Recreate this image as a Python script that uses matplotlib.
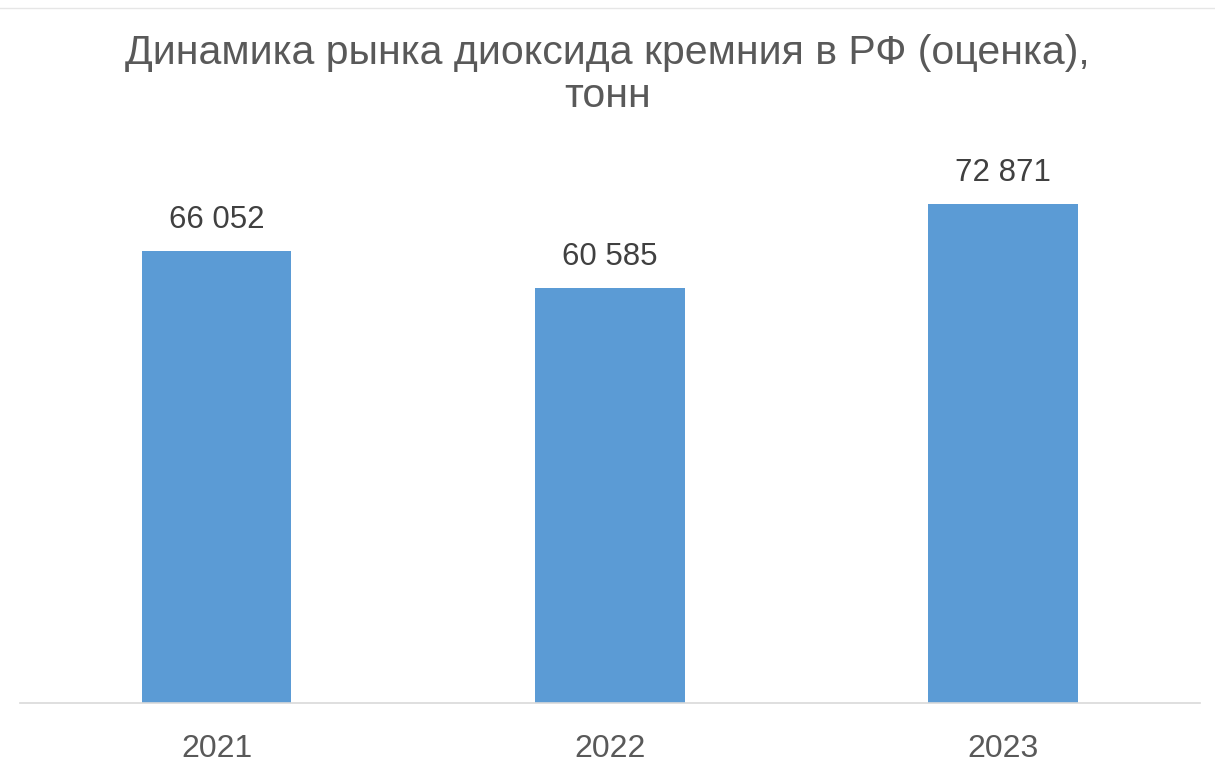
import numpy as np
import matplotlib.pyplot as plt

# data
years = ['2021', '2022', '2023']
values = [66052, 60585, 72871]
value_labels = ['66 052', '60 585', '72 871']

title = 'Динамика рынка диоксида кремния в РФ (оценка),\nтонн'

plt.rcParams['font.family'] = ['Liberation Sans', 'DejaVu Sans']

fig = plt.figure(figsize=(12.15, 7.78), dpi=100)
ax = fig.add_axes([0.0165, 0.0964, 0.971, 0.704])

x = np.arange(len(years))
bars = ax.bar(x, values, width=0.38, color='#5b9bd5', zorder=2)

for xi, v, lab in zip(x, values, value_labels):
    ax.text(xi, v + 2300, lab, ha='center', va='bottom', fontsize=22.5,
            color='#404040')

ax.set_xlim(-0.5, 2.5)
ax.set_ylim(0, 80000)
ax.set_xticks(x)
ax.set_xticklabels(years, fontsize=23, color='#595959')
ax.tick_params(axis='x', length=0, pad=22)
ax.set_yticks([])

for s in ['top', 'left', 'right']:
    ax.spines[s].set_visible(False)
ax.spines['bottom'].set_color('#d9d9d9')
ax.spines['bottom'].set_linewidth(1.2)

fig.text(0.5, 0.904, title, ha='center', va='center', fontsize=29.5,
         color='#595959', linespacing=1.18)

# thin frame line at the top
fig.add_artist(plt.Line2D([0, 1], [0.99, 0.99], color='#e6e6e6', lw=1))

fig.savefig('out.png', dpi=100)
